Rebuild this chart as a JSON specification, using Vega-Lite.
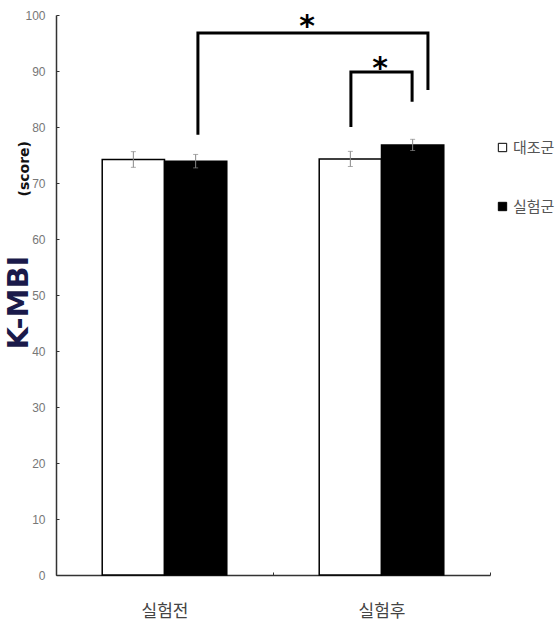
{
  "$schema": "https://vega.github.io/schema/vega-lite/v6.json",
  "autosize": "none",
  "width": 434,
  "height": 560,
  "padding": {"left": 56, "top": 15, "right": 70, "bottom": 55},
  "background": "white",
  "title": {
    "text": "(score)",
    "orient": "left",
    "anchor": "end",
    "frame": "group",
    "font": "DejaVu Sans",
    "fontSize": 14,
    "fontWeight": "bold",
    "color": "#111111",
    "offset": -28,
    "dx": -126
  },
  "config": {
    "view": {"stroke": null},
    "axis": {"grid": false}
  },
  "layer": [
    {
      "data": {
        "values": [
          {"phase": "실험전", "group": "대조군", "value": 74.2, "err": 1.4},
          {"phase": "실험전", "group": "실험군", "value": 73.9, "err": 1.2},
          {"phase": "실험후", "group": "대조군", "value": 74.3, "err": 1.35},
          {"phase": "실험후", "group": "실험군", "value": 76.8, "err": 1.0}
        ]
      },
      "transform": [
        {"calculate": "datum.value - datum.err", "as": "lo"},
        {"calculate": "datum.value + datum.err", "as": "hi"}
      ],
      "encoding": {
        "x": {
          "field": "phase",
          "type": "nominal",
          "sort": ["실험전", "실험후"],
          "scale": {"paddingInner": 0, "paddingOuter": 0},
          "axis": {
            "title": null,
            "labelAngle": 0,
            "labelFont": "Noto Sans CJK KR",
            "labelFontSize": 17,
            "labelColor": "#444444",
            "labelPadding": 31,
            "tickBand": "extent",
            "tickSize": -3,
            "tickColor": "#333333",
            "domainColor": "#333333",
            "domainWidth": 1.5
          }
        },
        "xOffset": {
          "field": "group",
          "type": "nominal",
          "sort": ["대조군", "실험군"],
          "scale": {"paddingInner": 0, "paddingOuter": 0.742}
        }
      },
      "layer": [
        {
          "mark": {"type": "bar", "stroke": "black", "strokeWidth": 1.5},
          "encoding": {
            "y": {
              "field": "value",
              "type": "quantitative",
              "scale": {"domain": [0, 100], "nice": false},
              "axis": {
                "title": "K-MBI",
                "values": [0, 10, 20, 30, 40, 50, 60, 70, 80, 90, 100],
                "labelFont": "Liberation Sans",
                "labelFontSize": 12,
                "labelColor": "#777777",
                "labelPadding": 14,
                "tickSize": -3,
                "tickColor": "#333333",
                "domainColor": "#333333",
                "domainWidth": 1.5,
                "titleFont": "DejaVu Sans",
                "titleFontSize": 29,
                "titleFontWeight": "bold",
                "titleColor": "#1a1a4a",
                "titleAngle": 270,
                "titleAlign": "center",
                "titleBaseline": "alphabetic",
                "titleX": -29,
                "titleY": 287
              }
            },
            "fill": {
              "field": "group",
              "type": "nominal",
              "sort": ["대조군", "실험군"],
              "scale": {"domain": ["대조군", "실험군"], "range": ["white", "black"]},
              "legend": {
                "title": null,
                "orient": "none",
                "legendX": 439,
                "legendY": 125,
                "symbolType": "square",
                "symbolSize": 70,
                "symbolStrokeColor": "black",
                "symbolStrokeWidth": 1,
                "labelFont": "Noto Sans CJK KR",
                "labelFontSize": 15,
                "labelColor": "#555555",
                "labelOffset": 3,
                "rowPadding": 43
              }
            }
          }
        },
        {
          "mark": {"type": "rule", "color": "#888888", "strokeWidth": 1},
          "encoding": {
            "y": {"field": "lo", "type": "quantitative"},
            "y2": {"field": "hi"}
          }
        },
        {
          "mark": {"type": "tick", "color": "#888888", "thickness": 1, "size": 5},
          "encoding": {"y": {"field": "hi", "type": "quantitative"}}
        },
        {
          "mark": {"type": "tick", "color": "#888888", "thickness": 1, "size": 5},
          "encoding": {"y": {"field": "lo", "type": "quantitative"}}
        }
      ]
    },
    {
      "data": {
        "values": [
          {"bracket": "A", "ord": 1, "bx": 0.654, "value": 78.6},
          {"bracket": "A", "ord": 2, "bx": 0.654, "value": 96.8},
          {"bracket": "A", "ord": 3, "bx": 1.714, "value": 96.8},
          {"bracket": "A", "ord": 4, "bx": 1.714, "value": 86.6},
          {"bracket": "B", "ord": 1, "bx": 1.359, "value": 80.0},
          {"bracket": "B", "ord": 2, "bx": 1.359, "value": 89.8},
          {"bracket": "B", "ord": 3, "bx": 1.641, "value": 89.8},
          {"bracket": "B", "ord": 4, "bx": 1.641, "value": 84.5}
        ]
      },
      "mark": {"type": "line", "color": "black", "strokeWidth": 3, "strokeJoin": "miter", "strokeCap": "butt"},
      "encoding": {
        "x": {"field": "bx", "type": "quantitative", "scale": {"domain": [0, 2], "nice": false, "zero": false}, "axis": null},
        "y": {"field": "value", "type": "quantitative"},
        "detail": {"field": "bracket"},
        "order": {"field": "ord"}
      }
    },
    {
      "data": {
        "values": [
          {"bx": 1.157, "value": 96.2, "label": "*"},
          {"bx": 1.493, "value": 88.7, "label": "*"}
        ]
      },
      "mark": {"type": "text", "font": "DejaVu Sans", "fontSize": 30, "fontWeight": "bold", "baseline": "alphabetic", "align": "center", "color": "black"},
      "encoding": {
        "x": {"field": "bx", "type": "quantitative", "scale": {"domain": [0, 2], "nice": false, "zero": false}, "axis": null},
        "y": {"field": "value", "type": "quantitative"},
        "text": {"field": "label"}
      }
    }
  ],
  "resolve": {"scale": {"x": "independent"}, "axis": {"x": "independent"}}
}
